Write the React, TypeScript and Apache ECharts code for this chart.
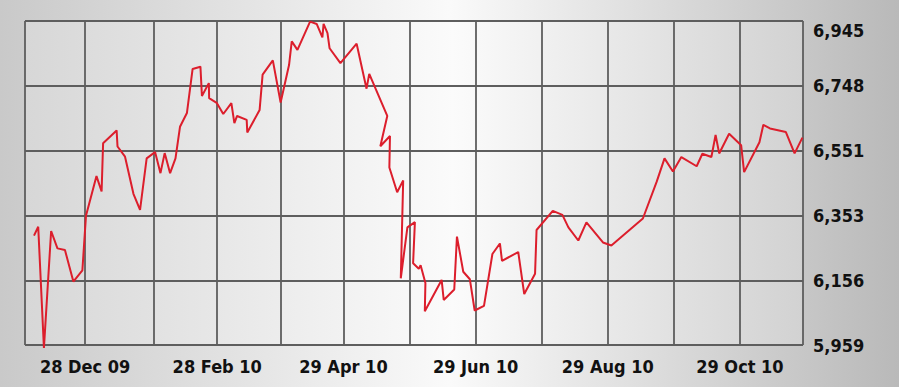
import React, { useEffect, useRef } from "react";
import * as echarts from "echarts";

// Trading-day index (0 = left edge of the chart, 259 = right edge)
const DAY_INDEX = [
  3.0, 4.4, 6.3, 8.7, 10.8, 13.3, 16.1, 19.1, 20.3, 23.8,
  25.5, 26.0, 30.5, 30.8, 33.3, 36.1, 38.3, 40.5, 43.3, 45.1,
  46.5, 48.3, 50.1, 51.6, 53.9, 55.8, 58.4, 58.9, 61.2, 61.3,
  63.8, 66.0, 68.7, 69.7, 70.6, 73.8, 74.0, 78.1, 79.1, 82.5,
  85.1, 87.9, 88.8, 90.7, 94.9, 97.1, 99.0, 99.4, 100.7, 101.4,
  105.0, 110.4, 113.7, 114.6, 120.6, 118.3, 121.5, 121.3, 123.9, 125.9,
  125.1, 127.3, 129.8, 129.2, 131.1, 131.7, 133.3, 133.1, 138.7, 139.4,
  142.9, 143.8, 145.9, 148.1, 149.7, 152.8, 155.6, 158.1, 158.8, 164.2,
  166.2, 169.8, 170.3, 175.7, 178.9, 180.9, 184.2, 186.9, 192.4, 195.2,
  205.7, 210.3, 212.9, 215.7, 218.5, 223.6, 225.5, 228.5, 229.9, 231.1,
  234.4, 238.4, 239.4, 244.5, 245.8, 248.0, 253.3, 256.2, 258.8,
];

const CLOSE = [
  6292, 6319, 5950, 6306, 6253, 6248, 6152, 6186, 6352, 6473,
  6426, 6573, 6612, 6563, 6532, 6419, 6370, 6527, 6546, 6482,
  6543, 6482, 6527, 6623, 6665, 6799, 6806, 6717, 6756, 6710,
  6696, 6662, 6695, 6634, 6656, 6644, 6606, 6674, 6782, 6825,
  6697, 6811, 6883, 6857, 6943, 6936, 6895, 6936, 6908, 6862,
  6817, 6876, 6739, 6784, 6656, 6564, 6595, 6499, 6424, 6460,
  6162, 6317, 6333, 6208, 6191, 6202, 6148, 6062, 6157, 6096,
  6128, 6289, 6182, 6159, 6064, 6078, 6236, 6268, 6215, 6242,
  6114, 6176, 6309, 6367, 6355, 6317, 6277, 6332, 6271, 6262,
  6344, 6456, 6527, 6487, 6531, 6503, 6541, 6531, 6598, 6542,
  6602, 6567, 6485, 6576, 6629, 6618, 6607, 6542, 6590,
];

const X_MIN = 0;
const X_MAX = 259;
const X_GRID = [0, 20, 43, 64, 85, 106, 128, 150, 172, 194, 216, 238, 259];
const X_LABEL_POS = [20, 64, 106, 150, 194, 238];
const X_LABEL_TEXT = ["28 Dec 09", "28 Feb 10", "29 Apr 10", "29 Jun 10", "29 Aug 10", "29 Oct 10"];

const Y_MIN = 5959;
const Y_MAX = 6945;
const Y_TICKS = [5959, 6156, 6353, 6551, 6748, 6945];

const FONT = '"DejaVu Sans Condensed", "DejaVu Sans", sans-serif';

export default function App() {
  const ref = useRef<HTMLDivElement>(null);

  useEffect(() => {
    document.body.style.margin = "0";
    if (!ref.current) return;
    const chart = echarts.init(ref.current, undefined, { renderer: "svg" });

    const data = DAY_INDEX.map((x, i) => [x, CLOSE[i]]);
    const gridLine = { show: true, lineStyle: { color: "#5e5e5e", width: 1.8 } };
    const labelStyle = {
      color: "#111111",
      fontFamily: FONT,
      fontWeight: "bold" as const,
      fontSize: 18,
    };

    chart.setOption({
      animation: false,
      backgroundColor: {
        type: "linear",
        x: 0, y: 0, x2: 1, y2: 0,
        colorStops: [
          { offset: 0, color: "#c9c9c9" },
          { offset: 0.5, color: "#fafafa" },
          { offset: 1, color: "#b9b9b9" },
        ],
      },
      grid: {
        left: 25,
        top: 21,
        width: 778,
        height: 324,
        show: true,
        borderWidth: 0,
        backgroundColor: {
          type: "linear",
          x: 0, y: 0, x2: 1, y2: 0,
          colorStops: [
            { offset: 0, color: "#d7d7d7" },
            { offset: 0.55, color: "#fbfbfb" },
            { offset: 1, color: "#d2d2d2" },
          ],
        },
      },
      xAxis: {
        type: "value",
        min: X_MIN,
        max: X_MAX,
        axisLine: { show: false },
        axisTick: { show: false, customValues: X_GRID },
        splitLine: gridLine,
        axisLabel: {
          ...labelStyle,
          margin: 12,
          customValues: X_LABEL_POS,
          formatter: (v: number) => {
            const i = X_LABEL_POS.indexOf(Math.round(v));
            return i >= 0 ? X_LABEL_TEXT[i] : "";
          },
        },
      },
      yAxis: {
        type: "value",
        position: "right",
        min: Y_MIN,
        max: Y_MAX,
        axisLine: { show: false },
        axisTick: { show: false, customValues: Y_TICKS },
        splitLine: gridLine,
        axisLabel: {
          ...labelStyle,
          margin: 10,
          customValues: Y_TICKS,
          verticalAlignMaxLabel: "top",
          formatter: (v: number) => Math.round(v).toLocaleString("en-US"),
        },
      },
      series: [
        {
          type: "line",
          data,
          clip: false,
          showSymbol: false,
          symbol: "none",
          lineStyle: { color: "#dc1e2c", width: 2 },
          z: 5,
        },
      ],
    });

    return () => chart.dispose();
  }, []);

  return <div ref={ref} style={{ width: 899, height: 387 }} />;
}
